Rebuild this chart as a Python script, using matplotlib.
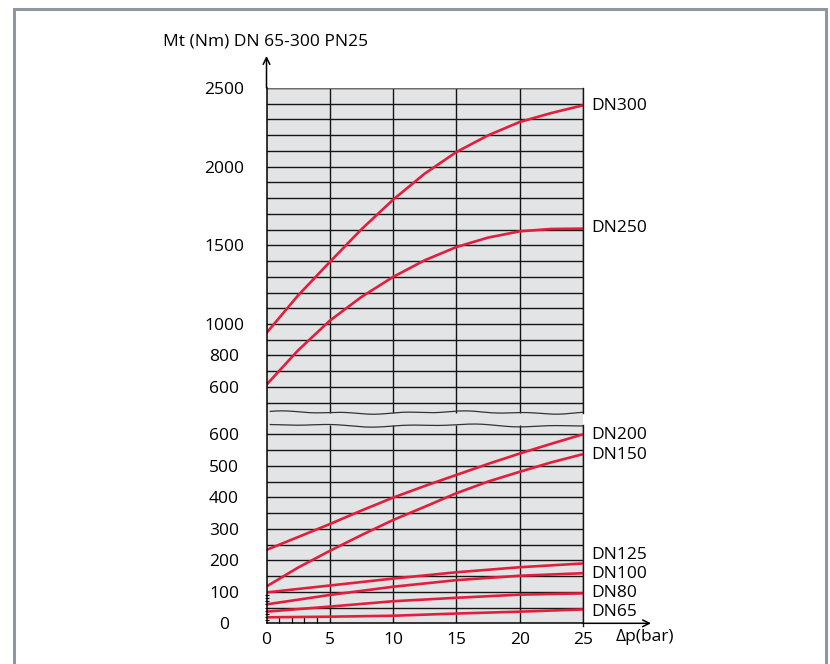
import numpy as np
import matplotlib
matplotlib.use("Agg")
import matplotlib.pyplot as plt
from matplotlib.patches import Rectangle
from matplotlib.lines import Line2D

plt.rcParams['font.family'] = ['Open Sans', 'DejaVu Sans']

# ---------------- data ----------------
dp_fine = [0, 2.5, 5, 7.5, 10, 12.5, 15, 17.5, 20, 22.5, 25]
dp_coarse = [0, 5, 10, 15, 20, 25]

dn300 = [943, 1182, 1394, 1602, 1790, 1956, 2093, 2199, 2284, 2341, 2390]
dn250 = [614, 833, 1021, 1172, 1299, 1405, 1489, 1549, 1589, 1604, 1606]
dn200 = [233, 274, 315, 358, 399, 436, 471, 506, 539, 570, 600]
dn150 = [117, 177, 230, 280, 328, 370, 413, 450, 481, 511, 537]
dn125 = [98, 120, 142, 162, 178, 190]
dn100 = [60, 90, 116, 137, 151, 159]
dn80 = [37, 53, 70, 81, 91, 95]
dn65 = [19, 21, 24, 31, 37, 44]

upper_ticks = [600, 800, 1000, 1500, 2000, 2500]
lower_ticks = [0, 100, 200, 300, 400, 500, 600]
x_ticks = [0, 5, 10, 15, 20, 25]

upper_labels = ["DN300", "DN250"]
lower_labels = ["DN200", "DN150", "DN125", "DN100", "DN80", "DN65"]

title = "Mt (Nm) DN 65-300 PN25"
xlabel = "\u0394p(bar)"

# ---------------- style ----------------
W, H = 830, 664
RED = '#e31e3c'
GRAY = '#e3e4e6'
GRID = '#151515'
FS = 12.5

fig = plt.figure(figsize=(W / 100, H / 100), dpi=100)

def fx(px):
    return px / W

def fy(py):
    return 1 - py / H

x_left, x_right = 266.5, 583.0
y_top, y_split, y_bottom = 88.0, 419.0, 623.3

ax_top = fig.add_axes([fx(x_left), fy(y_split), fx(x_right - x_left), (y_split - y_top) / H])
ax_bot = fig.add_axes([fx(x_left), fy(y_bottom), fx(x_right - x_left), (y_bottom - y_split) / H])

ax_top.set_ylim(396, 2500)
ax_bot.set_ylim(0, 648.6)
wave_top_val = 437
wave_bot_val = 628

for ax in (ax_top, ax_bot):
    ax.set_xlim(0, 25)
    ax.set_facecolor(GRAY)
    for s in ax.spines.values():
        s.set_visible(False)

# grid lines
for v in range(500, 2501, 100):
    ax_top.axhline(v, color=GRID, lw=1.0, zorder=1)
ax_top.axhline(2500, color='#6b6b6b', lw=1.7, zorder=1.5)
for v in range(50, 601, 50):
    ax_bot.axhline(v, color=GRID, lw=1.0, zorder=1)
for xv in x_ticks[1:]:
    ax_top.vlines(xv, wave_top_val, 2500, color=GRID, lw=1.0, zorder=1)
    ax_bot.vlines(xv, 0, wave_bot_val, color=GRID, lw=1.0, zorder=1)

# wavy break lines
xw = np.linspace(0.3, 25, 400)
w1 = np.sin(xw * 1.3) * 0.5 + np.sin(xw * 0.45 + 1) * 0.7
w2 = np.sin(xw * 1.1 + 2) * 0.5 + np.sin(xw * 0.5 + 0.3) * 0.7
ax_top.plot(xw, wave_top_val + w1 * 9, color='#333333', lw=0.9, zorder=2, clip_on=False)
ax_bot.plot(xw, wave_bot_val + w2 * 4.5, color='#333333', lw=0.9, zorder=2, clip_on=False)

# curves
for ys in (dn300, dn250):
    ax_top.plot(dp_fine, ys, color=RED, lw=1.9, zorder=3, solid_capstyle='butt', solid_joinstyle='round')
for ys in (dn200, dn150):
    ax_bot.plot(dp_fine, ys, color=RED, lw=1.9, zorder=3, solid_capstyle='butt', solid_joinstyle='round')
for ys in (dn125, dn100, dn80, dn65):
    ax_bot.plot(dp_coarse, ys, color=RED, lw=1.9, zorder=3, solid_capstyle='butt', solid_joinstyle='round')

# ticks
ax_top.set_yticks(upper_ticks)
ax_bot.set_yticks(lower_ticks)
ax_top.set_xticks([])
ax_bot.set_xticks(x_ticks)
ax_bot.set_xticks([1, 2, 3, 4], minor=True)
ax_bot.set_yticks(list(range(10, 100, 10)), minor=True)
ax_top.tick_params(axis='y', length=0, pad=30.6, labelsize=FS)
ax_bot.tick_params(axis='y', which='major', length=0, pad=30.6, labelsize=FS)
ax_bot.tick_params(axis='y', which='minor', direction='inout', length=3.5, width=0.8, left=True)
ax_bot.tick_params(axis='x', which='major', length=0, pad=6, labelsize=FS)
ax_bot.tick_params(axis='x', which='minor', direction='in', length=4, width=0.9)
for ax in (ax_top, ax_bot):
    for lab in ax.get_yticklabels():
        lab.set_ha('center')

# axes arrows
fig.add_artist(Line2D([fx(x_left), fx(x_left)], [fy(y_bottom), fy(y_top)], color='black', lw=1.1))
fig.add_artist(Line2D([fx(x_left), fx(x_right)], [fy(y_bottom), fy(y_bottom)], color='black', lw=1.1))
fig.add_artist(Line2D([fx(x_right), fx(x_right)], [fy(y_top), fy(413)], color=GRID, lw=1.0))
fig.add_artist(Line2D([fx(x_right), fx(x_right)], [fy(425), fy(y_bottom + 3)], color=GRID, lw=1.0))
ann_kw = dict(arrowprops=dict(arrowstyle='->', color='black', lw=1.1, shrinkA=0, shrinkB=0,
                              mutation_scale=12))
fig.add_artist(plt.Annotation('', xy=(fx(x_left), fy(56)), xytext=(fx(x_left), fy(y_top)),
                              xycoords='figure fraction', textcoords='figure fraction', **ann_kw))
fig.add_artist(plt.Annotation('', xy=(fx(651), fy(y_bottom)), xytext=(fx(x_right), fy(y_bottom)),
                              xycoords='figure fraction', textcoords='figure fraction', **ann_kw))

# texts
fig.text(fx(163), fy(42), title, fontsize=FS, va='center', ha='left')
fig.text(fx(616), fy(637), xlabel, fontsize=FS, va='center', ha='left')

label_px_y_top = [106, 228]
label_px_y_bot = [435, 455, 555, 574, 593, 612]
for lab, py in zip(upper_labels + lower_labels, label_px_y_top + label_px_y_bot):
    fig.text(fx(591), fy(py), lab, fontsize=FS, va='center', ha='left')

# frame
fig.add_artist(Rectangle((fx(13.5), fy(700)), fx(826 - 13.5), (700 - 8.5) / H,
                         transform=fig.transFigure, fill=False, edgecolor='#8c979f', lw=2.2))

fig.savefig('out.png', dpi=100)
